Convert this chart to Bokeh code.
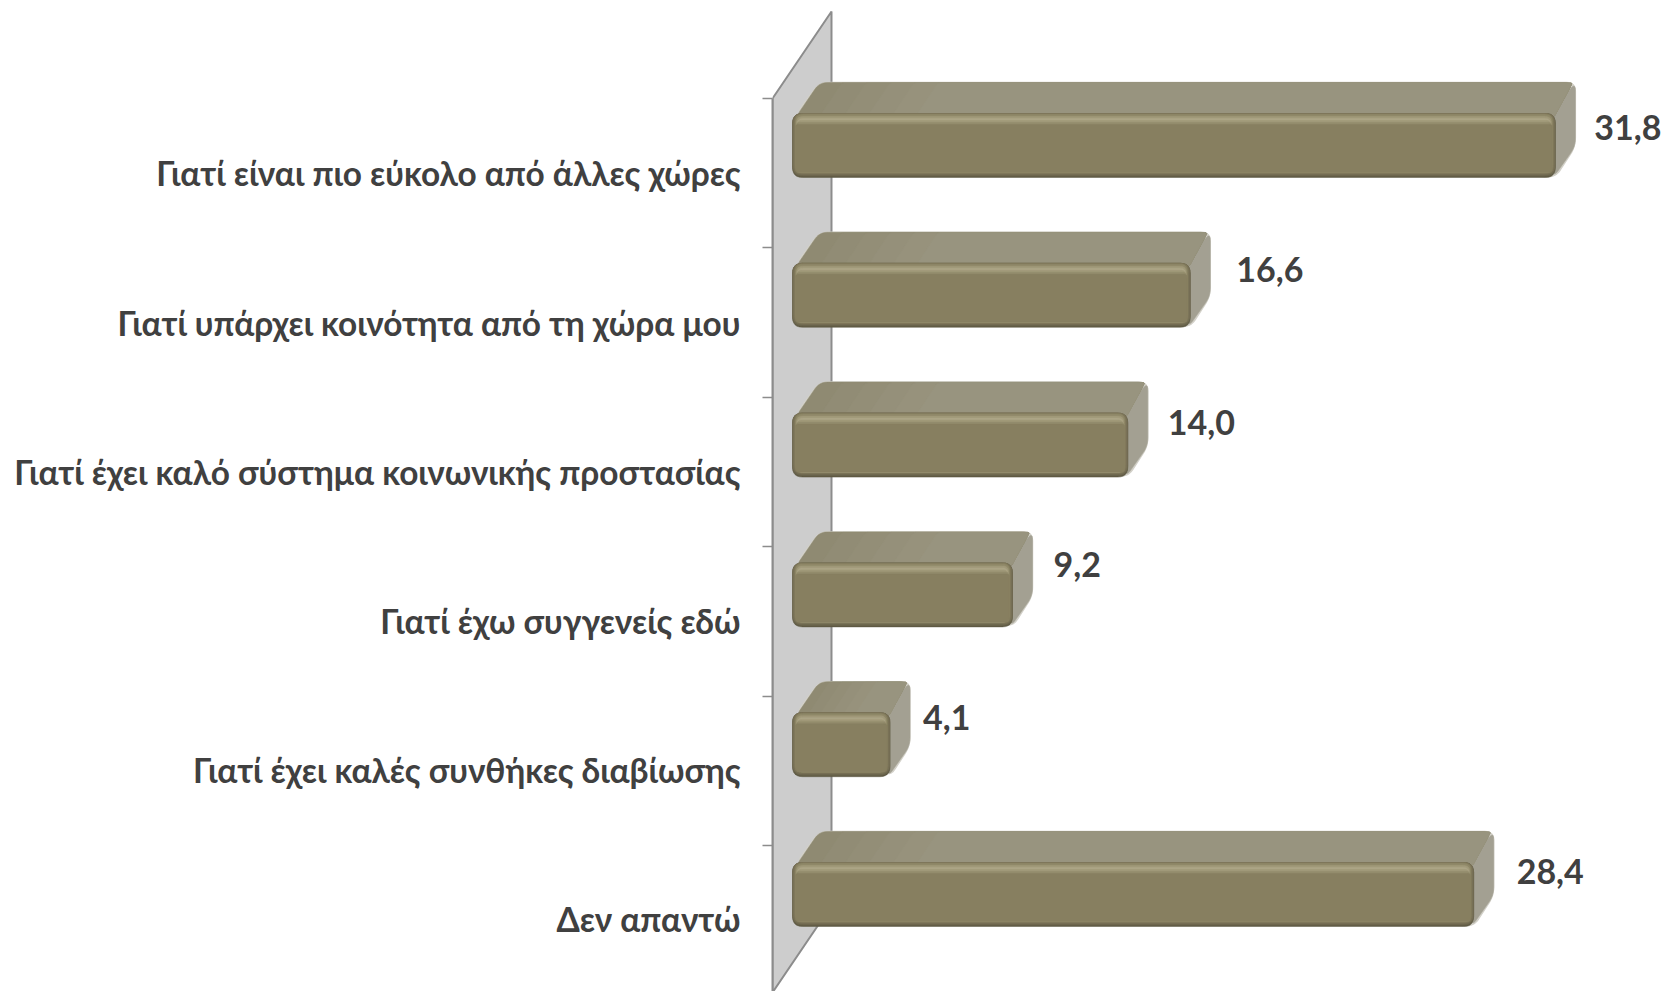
from bokeh.plotting import figure
from bokeh.embed import file_html
from bokeh.resources import INLINE
from bokeh.models import Range1d, FixedTicker, LinearAxis
from bokeh.core.properties import value
import math

categories = ["Γιατί είναι πιο εύκολο από άλλες χώρες",
              "Γιατί υπάρχει κοινότητα από τη χώρα μου",
              "Γιατί έχει καλό σύστημα κοινωνικής προστασίας",
              "Γιατί έχω συγγενείς εδώ",
              "Γιατί έχει καλές συνθήκες διαβίωσης",
              "Δεν απαντώ"]
values = [31.8, 16.6, 14.0, 9.2, 4.1, 28.4]
value_labels = ["31,8", "16,6", "14,0", "9,2", "4,1", "28,4"]

KX, KY = 24.02, 149.8
FONT = "Lato"
LABEL_DX = [38, 45, 39, 40, 32, 42]
LABEL_DY = [29, 21, 24, 17, 20, 24]

p = figure(width=1666, height=991, output_backend="svg", toolbar_location=None,
           x_range=Range1d(-20 / KX, 874 / KX), y_range=Range1d(893 / KY, -98 / KY),
           min_border_left=772, min_border_right=0, min_border_top=0, min_border_bottom=0,
           x_axis_type=None, y_axis_type=None, outline_line_color=None,
           background_fill_color="white", border_fill_color="white")
p.frame_width = 894
p.frame_height = 991
p.grid.visible = False

n = len(categories)
centers = [i * 0.996 + 0.5 for i in range(n)]
edges = [i * 0.9975 for i in range(n)]
ax = LinearAxis(ticker=FixedTicker(ticks=centers, minor_ticks=edges),
                major_label_overrides={c: t for c, t in zip(centers, categories)},
                bounds=(0, 893 / KY))
ax.major_tick_out = 0
ax.major_tick_in = 0
ax.minor_tick_out = 10
ax.minor_tick_in = 0
ax.minor_tick_line_color = "#8c8c8c"
ax.minor_tick_line_width = 1.5
ax.axis_line_color = "#8c8c8c"
ax.axis_line_width = 2
ax.major_label_standoff = 22
ax.major_label_text_font = FONT
ax.major_label_text_font_style = "bold"
ax.major_label_text_font_size = "33.4px"
ax.major_label_text_color = "#404040"
p.add_layout(ax, "left")


def rounded(pts, r):
    out = []
    m = len(pts)
    for k in range(m):
        x0, y0 = pts[k - 1]
        x1, y1 = pts[k]
        x2, y2 = pts[(k + 1) % m]
        a = math.hypot(x0 - x1, y0 - y1)
        b = math.hypot(x2 - x1, y2 - y1)
        rr = min(r, a / 2, b / 2)
        sx, sy = x1 + (x0 - x1) * rr / a, y1 + (y0 - y1) * rr / a
        ex, ey = x1 + (x2 - x1) * rr / b, y1 + (y2 - y1) * rr / b
        for t in [j / 6 for j in range(7)]:
            out.append(((1 - t) ** 2 * sx + 2 * t * (1 - t) * x1 + t * t * ex,
                        (1 - t) ** 2 * sy + 2 * t * (1 - t) * y1 + t * t * ey))
    return out


def draw(pts, color, r=0, line=None, lw=1):
    if r:
        pts = rounded(pts, r)
    p.patch([a / KX for a, _ in pts], [b / KY for _, b in pts], fill_color=color,
            line_color=line if line else color, line_width=lw if line else 0.5)


wall_x0, wall_x1 = -20.0, 39
draw([(wall_x0, 0), (wall_x1, -87), (wall_x1, 5 * KY + 58), (wall_x0, 5 * KY + 145)],
     "#cdcdcd", line="#8c8c8c", lw=2)

TOP, BOT = 15, 79
DX, DY = 20, -31
for i, v in enumerate(values):
    by = i * KY
    xl, xr = 0, v * KX - 1
    yt, yb = by + TOP, by + BOT
    draw([(xl + 4, yt), (xl + 27, yt + DY), (xr + DX, yt + DY), (xr + DX, yb + DY), (xr, yb)],
         "#d2d0c8", r=9, line="#d2d0c8", lw=1.5)
    draw([(xr - 4, yt), (xr + DX, yt + DY), (xr + DX, yb + DY), (xr - 2, yb)],
         "#a3a092", r=8)
    cols = ["#8f8a72", "#918c75", "#938e77", "#95907a", "#97927c", "#98947f"]
    draw([(xl + 3, yt + 4), (xl + 27, yt + DY), (xr + DX - 2, yt + DY), (xr - 2, yt + 4)],
         cols[0], r=8)
    span = min(120, (xr - xl) * 0.6)
    for s in range(1, len(cols)):
        lx = xl + 3 + span * s / (len(cols) - 1)
        draw([(lx, yt + 3), (lx + 22, yt + DY + 0.5), (xr + DX - 3, yt + DY + 0.5), (xr - 1, yt + 3)],
             cols[s], r=2)
    layers = [
        (0, 0, 0, 0, 10, "#5f5a44"),
        (0, 0, 0, 1.5, 10, "#6d674e"),
        (0.5, 0, 0.5, 3, 9, "#787157"),
        (2, 0, 2, 4, 8, "#827b5c"),
        (3, 1, 3, 5, 7, "#8f8868"),
        (4, 3, 4, 5, 6, "#a09979"),
        (5, 5, 5, 5, 5, "#aca586"),
        (5, 7, 5, 5, 4, "#a09979"),
        (4, 9, 4, 5, 3, "#938c6c"),
        (3, 11, 3, 5, 3, "#877f60"),
    ]
    for il, it, ir, ib, r, c in layers:
        draw([(xl + il, yt + it), (xr - ir, yt + it), (xr - ir, yb - ib), (xl + il, yb - ib)], c, r=r)

p.text(list(values), list(range(n)), text=value_labels,
       x_offset=LABEL_DX, y_offset=LABEL_DY,
       text_font=value(FONT), text_font_style="bold", text_font_size="34px",
       text_color="#404040", text_align="left", text_baseline="middle")

open("out.html", "w").write(file_html(p, INLINE))
